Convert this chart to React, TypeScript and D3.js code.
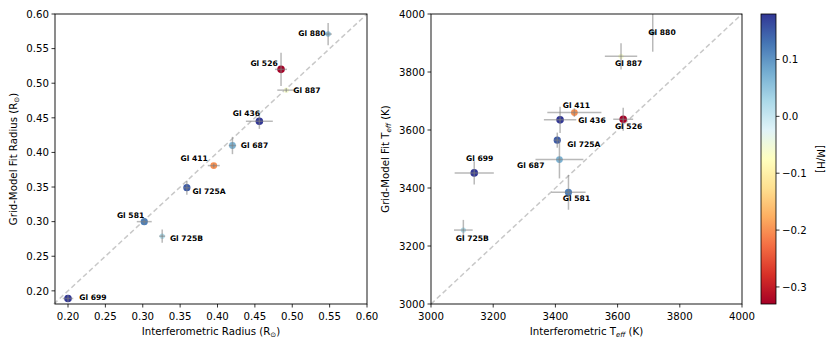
import * as d3 from 'd3';

// star names and [M/H]
const stars = ['Gl 880', 'Gl 526', 'Gl 887', 'Gl 436', 'Gl 687', 'Gl 411', 'Gl 725A', 'Gl 581', 'Gl 725B', 'Gl 699'];
const metallicity = [0.05, -0.33, -0.06, 0.18, 0.07, -0.2, 0.15, 0.12, 0.02, 0.18];
// lighter points look smaller in the original
const markerSize = [2.7, 3.8, 2.6, 3.8, 3.4, 3.4, 3.6, 3.6, 2.6, 3.8];

// radius (R_sun)
const radiusInterf = [0.548, 0.485, 0.492, 0.456, 0.42, 0.395, 0.359, 0.302, 0.326, 0.2];
const radiusInterfErr = [0.005, 0.008, 0.012, 0.018, 0.005, 0.008, 0.004, 0.01, 0.004, 0.007];
const radiusModel = [0.571, 0.52, 0.49, 0.445, 0.41, 0.381, 0.349, 0.3, 0.279, 0.189];
const radiusModelErr = [0.016, 0.024, 0.003, 0.011, 0.0125, 0.003, 0.01, 0.004, 0.0096, 0.005];

// Teff (K)
const teffInterf = [3713, 3618, 3611, 3415, 3413, 3461, 3406, 3442, 3104, 3139];
const teffInterfErr = [10, 32, 52, 52, 77, 87, 10, 55, 30, 63];
const teffModel = [3935, 3637, 3854, 3635, 3498, 3660, 3565, 3385, 3255, 3452];
const teffModelErr = [65, 40, 45, 45, 65, 15, 26, 60, 35, 40];

// tick labels
const radiusTicks = [0.2, 0.25, 0.3, 0.35, 0.4, 0.45, 0.5, 0.55, 0.6];
const teffTicks = [3000, 3200, 3400, 3600, 3800, 4000];
const cbarTicks = [0.1, 0.0, -0.1, -0.2, -0.3];

// label offsets (px) like annotate xytext
const leftLabelPos: [number, number, string][] = [
  [-2.5, 1.5, 'end'], [-3.3, -3.6, 'end'], [7, 3.3, 'start'], [0.7, -5.3, 'end'], [8.4, 2.4, 'start'],
  [-6, -5, 'end'], [5.6, 6.3, 'start'], [0, -4, 'end'], [7.7, 4.7, 'start'], [11.3, 1.6, 'start'],
];
const rightLabelPos: [number, number, string][] = [
  [-4.4, 2.3, 'start'], [-8.3, 10, 'start'], [-6, 10, 'start'], [18.3, 3.3, 'start'], [-15, 8.3, 'end'],
  [-11.6, -5, 'start'], [10, 7, 'start'], [-5.6, 9, 'start'], [-7.6, 10.7, 'start'], [-8.3, -12.3, 'start'],
];

const rdylbu = ['#a50026', '#d73027', '#f46d43', '#fdae61', '#fee090', '#ffffbf', '#e0f3f8', '#abd9e9', '#74add1', '#4575b4', '#313695'];
const cmin = -0.33;
const cmax = 0.18;
const interp = d3.piecewise(d3.interpolateRgb, rdylbu);
const color = (v: number) => interp(Math.max(0, Math.min(1, (v - cmin) / (cmax - cmin))));

const font = 'DejaVu Sans, sans-serif';
const errColor = 'rgba(128,128,128,0.55)';

function Panel(props: {
  x0: number; x1: number; y0: number; y1: number;
  xdom: [number, number]; ydom: [number, number];
  xs: number[]; xe: number[]; ys: number[]; ye: number[];
  ticks: number[]; fmt: (d: number) => string;
  labelPos: [number, number, string][];
  xlabel: any; ylabel: any; ylabelX: number;
}) {
  const { x0, x1, y0, y1 } = props;
  const x = d3.scaleLinear().domain(props.xdom).range([x0, x1]);
  const y = d3.scaleLinear().domain(props.ydom).range([y1, y0]);
  const lo = Math.min(props.xdom[0], props.ydom[0]);
  const hi = Math.max(props.xdom[1], props.ydom[1]);
  return (
    <g fontFamily={font}>
      <line x1={x(lo)} y1={y(lo)} x2={x(hi)} y2={y(hi)} stroke="#c8c8c8" strokeWidth={1.5} strokeDasharray="5,3" />
      {stars.map((s, i) => (
        <circle key={'c' + s} cx={x(props.xs[i])} cy={y(props.ys[i])} r={markerSize[i]} fill={color(metallicity[i])} />
      ))}
      {stars.map((s, i) => (
        <g key={'e' + s} stroke={errColor} strokeWidth={1.5}>
          <line x1={x(props.xs[i] - props.xe[i])} x2={x(props.xs[i] + props.xe[i])} y1={y(props.ys[i])} y2={y(props.ys[i])} />
          <line x1={x(props.xs[i])} x2={x(props.xs[i])} y1={y(props.ys[i] - props.ye[i])} y2={y(props.ys[i] + props.ye[i])} />
        </g>
      ))}
      {stars.map((s, i) => (
        <text key={'t' + s} x={x(props.xs[i]) + props.labelPos[i][0]} y={y(props.ys[i]) + props.labelPos[i][1]}
          textAnchor={props.labelPos[i][2] as any} fontSize={7.6} fontWeight="bold" fill="#000">{s}</text>
      ))}
      <rect x={x0} y={y0} width={x1 - x0} height={y1 - y0} fill="none" stroke="#000" strokeWidth={0.9} />
      {props.ticks.filter(t => t >= props.xdom[0] - 1e-9 && t <= props.xdom[1] + 1e-9).map(t => (
        <g key={'xt' + t}>
          <line x1={x(t)} x2={x(t)} y1={y1} y2={y1 + 3.5} stroke="#000" strokeWidth={0.8} />
          <text x={x(t)} y={y1 + 15.5} textAnchor="middle" fontSize={10.2} fill="#000">{props.fmt(t)}</text>
        </g>
      ))}
      {props.ticks.filter(t => t >= props.ydom[0] - 1e-9 && t <= props.ydom[1] + 1e-9).map(t => (
        <g key={'yt' + t}>
          <line x1={x0 - 3.5} x2={x0} y1={y(t)} y2={y(t)} stroke="#000" strokeWidth={0.8} />
          <text x={x0 - 6} y={y(t) + 3.7} textAnchor="end" fontSize={10.2} fill="#000">{props.fmt(t)}</text>
        </g>
      ))}
      <text x={(x0 + x1) / 2} y={335} textAnchor="middle" fontSize={10.2} fill="#000">{props.xlabel}</text>
      <text transform={`translate(${props.ylabelX},${(y0 + y1) / 2}) rotate(-90)`} textAnchor="middle" fontSize={10.2} fill="#000">{props.ylabel}</text>
    </g>
  );
}

export default function App() {
  const cb = { x: 761, y0: 14, y1: 304, w: 15 };
  const cy = d3.scaleLinear().domain([cmin, cmax]).range([cb.y1, cb.y0]);
  const stops = d3.range(0, 1.0001, 0.02);
  const sun = <tspan fontSize={7} dy={2}>⊙</tspan>;
  const eff = <tspan fontSize={7} dy={2} fontStyle="italic">eff</tspan>;
  return (
    <svg width={831} height={353} style={{ position: 'absolute', left: 0, top: 0, background: '#fff' }}>
      <defs>
        <linearGradient id="cbar" x1="0" x2="0" y1="1" y2="0">
          {stops.map(t => <stop key={t} offset={t} stopColor={interp(t)} />)}
        </linearGradient>
      </defs>
      <Panel x0={55} x1={367} y0={14} y1={304} xdom={[0.1826, 0.6]} ydom={[0.181, 0.6]}
        xs={radiusInterf} xe={radiusInterfErr} ys={radiusModel} ye={radiusModelErr}
        ticks={radiusTicks} fmt={d3.format('.2f')} labelPos={leftLabelPos} ylabelX={17}
        xlabel={<>Interferometric Radius (R{sun}<tspan dy={-2}>)</tspan></>}
        ylabel={<>Grid-Model Fit Radius (R{sun}<tspan dy={-2}>)</tspan></>} />
      <Panel x0={431} x1={742} y0={14} y1={304} xdom={[3000, 4000]} ydom={[3000, 4000]}
        xs={teffInterf} xe={teffInterfErr} ys={teffModel} ye={teffModelErr}
        ticks={teffTicks} fmt={d3.format('d')} labelPos={rightLabelPos} ylabelX={389}
        xlabel={<>Interferometric T{eff}<tspan dy={-2}> (K)</tspan></>}
        ylabel={<>Grid-Model Fit T{eff}<tspan dy={-2}> (K)</tspan></>} />
      <g fontFamily={font}>
        <rect x={cb.x} y={cb.y0} width={cb.w} height={cb.y1 - cb.y0} fill="url(#cbar)" stroke="#000" strokeWidth={0.8} />
        {cbarTicks.map(t => (
          <g key={t}>
            <line x1={cb.x + cb.w} x2={cb.x + cb.w + 3.5} y1={cy(t)} y2={cy(t)} stroke="#000" strokeWidth={0.8} />
            <text x={cb.x + cb.w + 6} y={cy(t) + 3.7} fontSize={10.2} fill="#000">{d3.format('.1f')(t).replace('-', '−')}</text>
          </g>
        ))}
        <text transform={`translate(817,${(cb.y0 + cb.y1) / 2}) rotate(90)`} textAnchor="middle" fontSize={10.2} fill="#000">[M/H]</text>
      </g>
    </svg>
  );
}
